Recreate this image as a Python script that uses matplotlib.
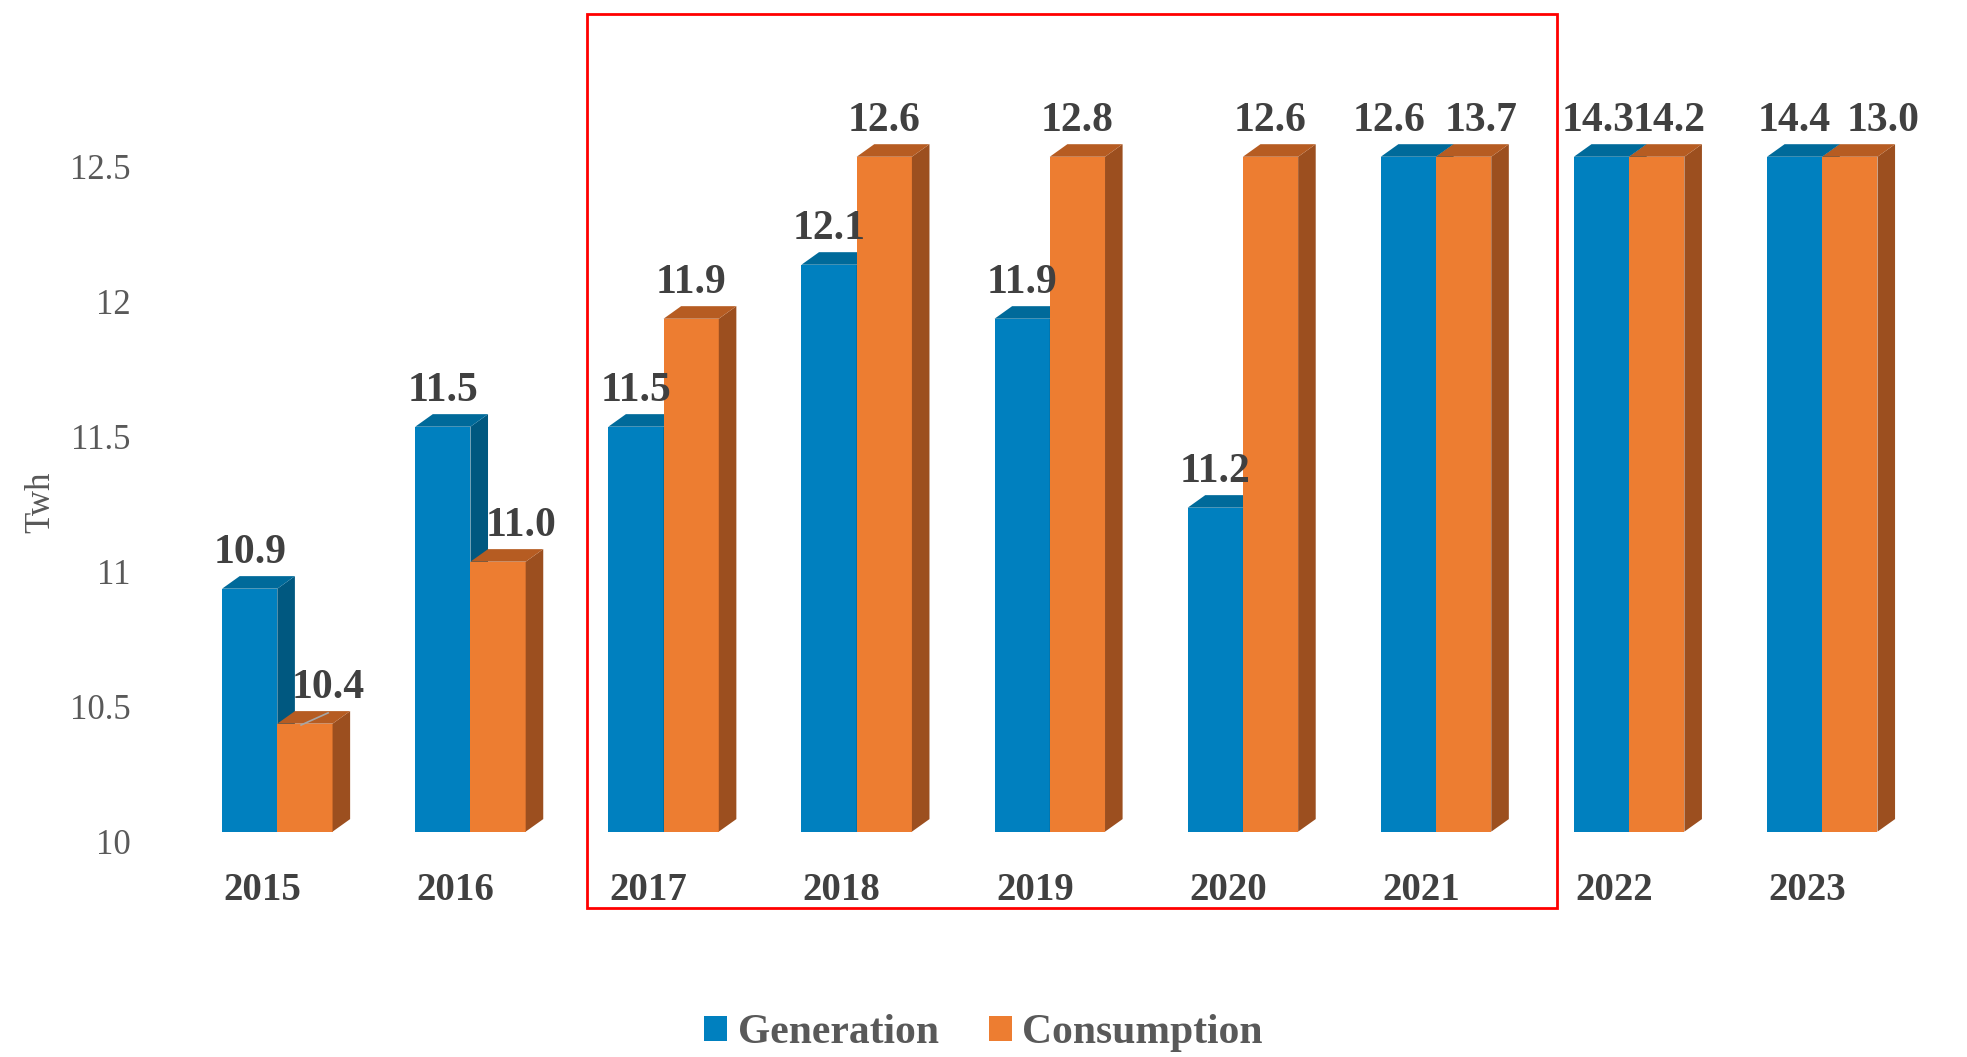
import numpy as np
import matplotlib
matplotlib.use("Agg")
import matplotlib.pyplot as plt
from matplotlib.patches import Polygon, Rectangle, Patch
from matplotlib.transforms import ScaledTranslation
from matplotlib.ticker import FormatStrFormatter

years = ["2015", "2016", "2017", "2018", "2019", "2020", "2021", "2022", "2023"]
generation = [10.9, 11.5, 11.5, 12.1, 11.9, 11.2, 12.6, 14.3, 14.4]
consumption = [10.4, 11.0, 11.9, 12.6, 12.8, 12.6, 13.7, 14.2, 13.0]

# label nudges (data units), like excel moved them
gen_dx = [0, 0, 0, 0, 0, 0, -0.10, -0.02, 0]
con_dx = [0.12, 0.12, 0, 0, 0, 0, 0.09, 0.065, 0.17]

ymin, ymax = 10, 12.5
blue = ["#0080BF", "#005880", "#006A9A"]      # front, side, top
orange = ["#ED7D31", "#9C4F1F", "#B65C22"]
serif = "Liberation Serif"

fig = plt.figure(figsize=(19.67, 10.57), dpi=100)
ax = fig.add_axes([0.0919, 0.2132, 0.8836, 0.6385])
ax.set_xlim(-0.5, 8.5)
ax.set_ylim(ymin, ymax)

w = 0.286
ddx = 0.091
ddy = 0.0465


def bar3d(x0, h, cols, z):
    h = min(h, ymax)
    ax.bar(x0, h - ymin, width=w, bottom=ymin, align="edge", color=cols[0], zorder=z, clip_on=False)
    side = [(x0 + w, ymin), (x0 + w + ddx, ymin + ddy), (x0 + w + ddx, h + ddy), (x0 + w, h)]
    top = [(x0, h), (x0 + w, h), (x0 + w + ddx, h + ddy), (x0 + ddx, h + ddy)]
    ax.add_patch(Polygon(side, closed=True, facecolor=cols[1], edgecolor="none", zorder=z, clip_on=False))
    ax.add_patch(Polygon(top, closed=True, facecolor=cols[2], edgecolor="none", zorder=z, clip_on=False))
    return h


for i in range(len(years)):
    hg = bar3d(i - w, generation[i], blue, 2)
    hc = bar3d(i, consumption[i], orange, 3)
    ax.annotate("%.1f" % generation[i], (i - w / 2 + gen_dx[i], hg + ddy), xytext=(0, 3),
                textcoords="offset points", ha="center", va="bottom", fontsize=30,
                fontweight="bold", family=serif, color="#404040", annotation_clip=False, zorder=5)
    ax.annotate("%.1f" % consumption[i], (i + w / 2 + con_dx[i], hc + ddy), xytext=(0, 3),
                textcoords="offset points", ha="center", va="bottom", fontsize=30,
                fontweight="bold", family=serif, color="#404040", annotation_clip=False, zorder=5)

# leader line for 2015 consumption label
ax.plot([0 + w / 2 - 0.02, 0 + w / 2 + 0.12], [consumption[0] - 0.005, consumption[0] + 0.04],
        color="#A6A6A6", lw=1.2, zorder=6, clip_on=False)

for s in ax.spines.values():
    s.set_visible(False)

ax.set_yticks([10, 10.5, 11, 11.5, 12, 12.5])
ax.yaxis.set_major_formatter(FormatStrFormatter("%g"))
ax.tick_params(axis="y", length=0, pad=36, labelsize=25, labelcolor="#595959")
for lbl in ax.get_yticklabels():
    lbl.set_family(serif)
    lbl.set_transform(lbl.get_transform() + ScaledTranslation(0, -0.10, fig.dpi_scale_trans))

ax.set_xticks(range(len(years)))
ax.set_xticklabels(years)
ax.tick_params(axis="x", length=0, pad=29, labelsize=28, labelcolor="#404040")
for lbl in ax.get_xticklabels():
    lbl.set_family(serif)
    lbl.set_fontweight("bold")
    lbl.set_transform(lbl.get_transform() + ScaledTranslation(-0.15, 0, fig.dpi_scale_trans))

fig.text(41 / 1967, 1 - 502 / 1057, "Twh", rotation=90, ha="center", va="center",
         fontsize=25, family=serif, color="#595959")

handles = [Patch(facecolor=blue[0]), Patch(facecolor=orange[0])]
leg = fig.legend(handles, ["Generation", "Consumption"], loc="center", bbox_to_anchor=(0.5, 0.0225),
                 ncol=2, frameon=False, handlelength=0.55, handleheight=0.55, handletextpad=0.25,
                 columnspacing=1.2, borderpad=0, prop={"family": serif, "weight": "bold", "size": 30})
for t in leg.get_texts():
    t.set_color("#595959")

# red box round 2017-2021
fig.patches.append(Rectangle((587 / 1967, 1 - 908 / 1057), 970 / 1967, 894 / 1057,
                             transform=fig.transFigure, fill=False, edgecolor="#FF0000", lw=2))

fig.savefig("out.png", dpi=100)
